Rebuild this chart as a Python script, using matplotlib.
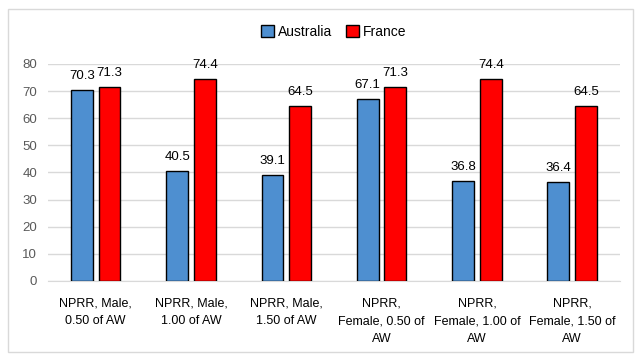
import matplotlib.pyplot as plt
import numpy as np
from matplotlib.patches import Rectangle

# data
categories = ["NPRR, Male,\n0.50 of AW", "NPRR, Male,\n1.00 of AW", "NPRR, Male,\n1.50 of AW",
              "NPRR,\nFemale, 0.50 of\nAW", "NPRR,\nFemale, 1.00 of\nAW", "NPRR,\nFemale, 1.50 of\nAW"]
australia = [70.3, 40.5, 39.1, 67.1, 36.8, 36.4]
france = [71.3, 74.4, 64.5, 71.3, 74.4, 64.5]

plt.rcParams['font.family'] = ['Liberation Sans', 'DejaVu Sans']

fig = plt.figure(figsize=(6.41, 3.63), dpi=100)
ax = fig.add_axes([0.075, 0.226, 0.892, 0.598])

# outer chart border
fig.patches.append(Rectangle((8/641, 11/363), 625/641, 343/363, transform=fig.transFigure,
                             fill=False, edgecolor='#d9d9d9', linewidth=1))

x = np.arange(len(categories))
w = 0.23
b1 = ax.bar(x - 0.145, australia, w, color='#4e8fd0', edgecolor='black', linewidth=1, label='Australia', zorder=3)
b2 = ax.bar(x + 0.145, france, w, color='#ff0000', edgecolor='black', linewidth=1, label='France', zorder=3)

for bars in (b1, b2):
    for r in bars:
        ax.text(r.get_x() + r.get_width()/2, r.get_height() + 3, f"{r.get_height():.1f}",
                ha='center', va='bottom', fontsize=9.5, color='black', clip_on=False)

ax.set_ylim(0, 80)
ax.set_xlim(-0.5, 5.5)
ax.set_yticks(range(0, 81, 10))
ax.yaxis.grid(True, color='#d9d9d9', linewidth=1, zorder=0)
ax.set_xticks(x)
ax.set_xticklabels(categories, fontsize=9, linespacing=1.65)
ax.tick_params(axis='x', length=0, pad=12)
ax.tick_params(axis='y', length=0, labelsize=9.5, labelcolor='#595959', pad=8)
for s in ['top', 'right', 'left']:
    ax.spines[s].set_visible(False)
ax.spines['bottom'].set_color('#d9d9d9')

ax.legend(loc='center', bbox_to_anchor=(0.5, 1.147), ncol=2, frameon=False, fontsize=10,
          handlelength=0.9, handleheight=0.9, handletextpad=0.3, columnspacing=1.0)

fig.savefig('out.png', dpi=100)
